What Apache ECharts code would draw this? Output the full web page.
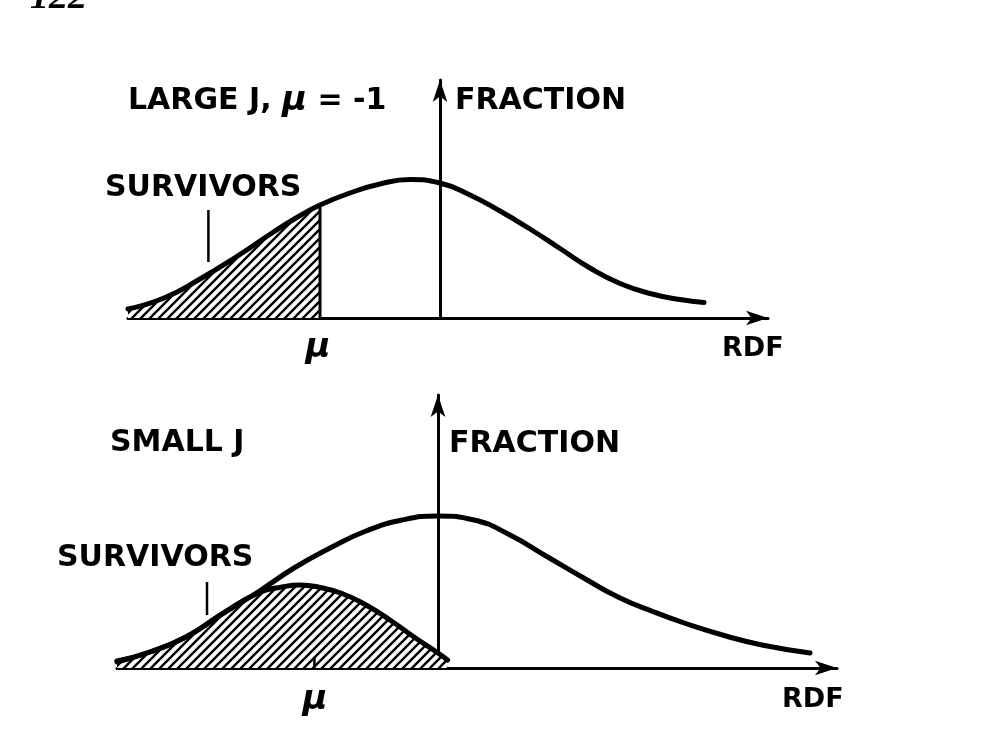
<!DOCTYPE html>
<html><head><meta charset="utf-8">
<script src="https://cdn.jsdelivr.net/npm/echarts@6/dist/echarts.min.js"></script>
<style>html,body{margin:0;padding:0;background:#fff}#c{width:1006px;height:736px}</style>
</head><body><div id="c"></div>
<script>
// ---- data (RDF in units where mu = -1, fraction in arbitrary units) ----
const topX = [-2.6, -2.3, -2.0, -1.7, -1.4, -1.2, -1.0, -0.75, -0.5, -0.25, 0.0, 0.25, 0.5, 0.75, 1.0, 1.25, 1.5, 1.75, 2.0, 2.2];
const topY = [0.09, 0.20, 0.39, 0.61, 0.85, 1.00, 1.13, 1.25, 1.34, 1.385, 1.35, 1.23, 1.07, 0.89, 0.695, 0.50, 0.345, 0.245, 0.185, 0.155];
const topMu = -1.0;

const botX = [-2.675, -2.4, -2.1, -1.8, -1.5, -1.2, -0.9, -0.6, -0.3, 0.0, 0.3, 0.6, 0.9, 1.2, 1.5, 1.8, 2.1, 2.4, 2.7, 3.1];
const botY = [0.07, 0.16, 0.31, 0.54, 0.76, 1.00, 1.20, 1.37, 1.48, 1.52, 1.48, 1.33, 1.12, 0.91, 0.71, 0.56, 0.43, 0.32, 0.23, 0.15];

const smallX = [-2.675, -2.4, -2.1, -1.8, -1.5, -1.3, -1.15, -1.0, -0.8, -0.6, -0.4, -0.2, 0.0, 0.08];
const smallY = [0.06, 0.16, 0.31, 0.54, 0.75, 0.81, 0.83, 0.81, 0.745, 0.63, 0.48, 0.31, 0.15, 0.08];
const botMu = -1.03;

const topTitle = 'LARGE J,';
const botTitle = 'SMALL J';
const yName = 'FRACTION';
const xName = 'RDF';
const shadeName = 'SURVIVORS';
const muName = 'μ';
const pageNo = '122';

// ---- helpers ----
const zip = (xs, ys) => xs.map((x, i) => [x, ys[i]]);
const topShade = zip(topX, topY).filter(p => p[0] <= topMu);
const topMuY = topY[topX.indexOf(topMu)];

function hatch() {
  const s = 9, c = document.createElement('canvas');
  c.width = s; c.height = s;
  const g = c.getContext('2d');
  g.fillStyle = '#fff'; g.fillRect(0, 0, s, s);
  g.strokeStyle = '#000'; g.lineWidth = 2.4;
  g.beginPath();
  g.moveTo(-1, s + 1); g.lineTo(s + 1, -1);
  g.moveTo(-2, 2); g.lineTo(2, -2);
  g.moveTo(s - 2, s + 2); g.lineTo(s + 2, s - 2);
  g.stroke();
  return c;
}
const pat = { image: hatch(), repeat: 'repeat' };

const axisLine = () => ({
  show: true, onZero: true,
  symbol: ['none', 'arrow'], symbolSize: [11, 22],
  lineStyle: { color: '#000', width: 3 }
});
const plainAxis = (extra) => Object.assign({
  type: 'value', axisTick: { show: false }, axisLabel: { show: false }, splitLine: { show: false },
  axisLine: axisLine()
}, extra);

const font = 'DejaVu Sans';
const txt = (text, x, y, size, extra) => ({
  type: 'text', x: x, y: y, z: 100,
  style: Object.assign({ text: text, fontFamily: font, fontWeight: 'bold', fontSize: size, fill: '#000', verticalAlign: 'middle', align: 'left' }, extra || {})
});
const muTxt = (x, y) => txt(muName, x, y, 34, { fontStyle: 'italic', align: 'center' });

const curve = { color: '#000', width: 5, cap: 'round', join: 'round' };
const SM = 0.5;

const chart = echarts.init(document.getElementById('c'), null, { renderer: 'canvas' });
chart.setOption({
  backgroundColor: '#fff',
  animation: false,
  grid: [
    { left: 128, right: 238, top: 80, bottom: 418 },
    { left: 117, right: 169, top: 395, bottom: 68 }
  ],
  xAxis: [
    plainAxis({ gridIndex: 0, min: -2.6, max: 2.7333 }),
    plainAxis({ gridIndex: 1, min: -2.675, max: 3.325 })
  ],
  yAxis: [
    plainAxis({ gridIndex: 0, min: 0, max: 2.38 }),
    plainAxis({ gridIndex: 1, min: 0, max: 2.73 })
  ],
  series: [
    { type: 'line', xAxisIndex: 0, yAxisIndex: 0, data: topShade, smooth: SM, symbol: 'none',
      lineStyle: { width: 0 }, areaStyle: { color: pat, opacity: 1 }, z: 2 },
    { type: 'line', xAxisIndex: 0, yAxisIndex: 0, data: zip(topX, topY), smooth: SM, symbol: 'none',
      lineStyle: curve, z: 4 },
    { type: 'line', xAxisIndex: 0, yAxisIndex: 0, data: [[topMu, 0], [topMu, topMuY]], symbol: 'none',
      lineStyle: { color: '#000', width: 3 }, z: 3 },
    { type: 'line', xAxisIndex: 0, yAxisIndex: 0, data: [[-1.93, 0.56], [-1.93, 1.08]], symbol: 'none',
      lineStyle: { color: '#000', width: 2.5 }, z: 3 },

    { type: 'line', xAxisIndex: 1, yAxisIndex: 1, data: zip(smallX, smallY), smooth: SM, symbol: 'none',
      lineStyle: curve, areaStyle: { color: pat, opacity: 1 }, z: 3 },
    { type: 'line', xAxisIndex: 1, yAxisIndex: 1, data: zip(botX, botY), smooth: SM, symbol: 'none',
      lineStyle: curve, z: 4 },
    { type: 'line', xAxisIndex: 1, yAxisIndex: 1, data: [[botMu, 0], [botMu, 0.11]], symbol: 'none',
      lineStyle: { color: '#000', width: 2.5 }, z: 4 },
    { type: 'line', xAxisIndex: 1, yAxisIndex: 1, data: [[-1.925, 0.53], [-1.925, 0.86]], symbol: 'none',
      lineStyle: { color: '#000', width: 2.5 }, z: 3 }
  ],
  graphic: [
    txt(pageNo, 30, 17, 38, { fontFamily: 'Liberation Serif', fontStyle: 'italic', verticalAlign: 'bottom' }),
    {
      type: 'text', x: 128, y: 101, z: 100,
      style: {
        text: '{a|' + topTitle + ' }{m|' + muName + '}{a| = -1}',
        verticalAlign: 'middle', fill: '#000',
        rich: {
          a: { fontFamily: font, fontWeight: 'bold', fontSize: 30, fill: '#000' },
          m: { fontFamily: font, fontWeight: 'bold', fontStyle: 'italic', fontSize: 34, fill: '#000' }
        }
      }
    },
    txt(yName, 455, 101, 30),
    txt(shadeName, 105, 188, 30),
    muTxt(318, 348),
    txt(xName, 722, 349, 27),

    txt(botTitle, 110, 443, 30),
    txt(yName, 449, 444, 30),
    txt(shadeName, 57, 558, 30),
    muTxt(315, 700),
    txt(xName, 782, 700, 27)
  ]
});
</script></body></html>
